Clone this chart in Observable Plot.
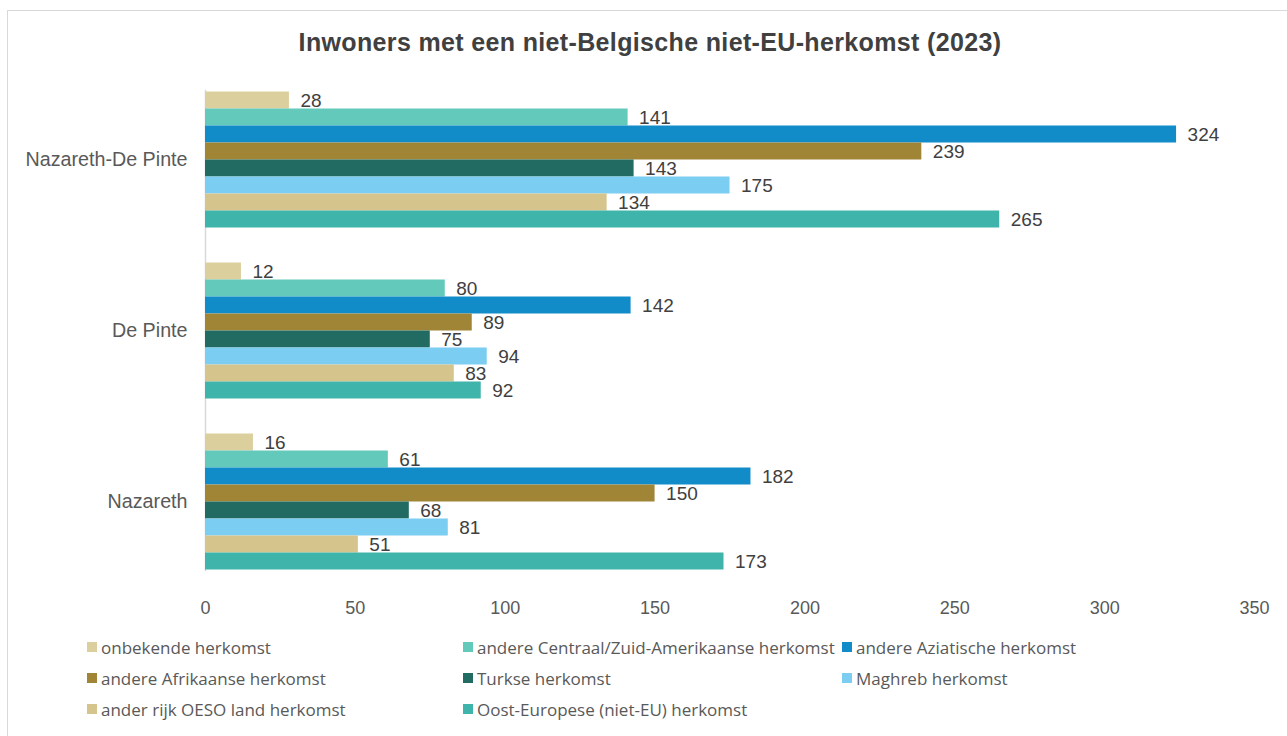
<!DOCTYPE html>
<html>
<head>
<meta charset="utf-8">
<script src="https://cdn.jsdelivr.net/npm/d3@7"></script>
<script src="https://cdn.jsdelivr.net/npm/@observablehq/plot@0.6"></script>
<style>
  html, body { margin: 0; padding: 0; background: #fff; width: 1287px; height: 736px; overflow: hidden; }
  #frame { position: absolute; left: 7px; top: 10px; width: 1400px; height: 800px; border: 1px solid #d9d9d9; box-sizing: border-box; }
  #title { position: absolute; left: 0; top: 28px; width: 1300px; text-align: center; font-family: "Liberation Sans", Arial, sans-serif; font-weight: bold; font-size: 25px; letter-spacing: 0.35px; color: #404040; line-height: 1.149; }
  #chart { position: absolute; left: 0; top: 0; }
  #legend { position: absolute; left: 0; top: 0; font-family: "Open Sans", sans-serif; font-size: 17px; color: #595959; }
  .item { position: absolute; display: flex; align-items: center; white-space: nowrap; height: 20px; }
  .sw { width: 10px; height: 10px; margin-right: 4px; }
</style>
</head>
<body>
<div id="frame"></div>
<div id="chart"></div>
<div id="title">Inwoners met een niet-Belgische niet-EU-herkomst (2023)</div>
<div id="legend"></div>
<script>
const categories = ["Nazareth-De Pinte", "De Pinte", "Nazareth"];
const series = [
  "onbekende herkomst",
  "andere Centraal/Zuid-Amerikaanse herkomst",
  "andere Aziatische herkomst",
  "andere Afrikaanse herkomst",
  "Turkse herkomst",
  "Maghreb herkomst",
  "ander rijk OESO land herkomst",
  "Oost-Europese (niet-EU) herkomst"
];
const colors = ["#DCCF9E", "#62C9BB", "#118CC8", "#A08537", "#216B62", "#7BCDF1", "#D5C48C", "#3EB4AA"];
const valuesNazarethDePinte = [28, 141, 324, 239, 143, 175, 134, 265];
const valuesDePinte = [12, 80, 142, 89, 75, 94, 83, 92];
const valuesNazareth = [16, 61, 182, 150, 68, 81, 51, 173];
const xTicks = [0, 50, 100, 150, 200, 250, 300, 350];

const valueRows = [valuesNazarethDePinte, valuesDePinte, valuesNazareth];
const data = [];
categories.forEach((c, i) => series.forEach((s, j) => data.push({cat: c, series: s, value: valueRows[i][j]})));

const H = 640;
const chart = Plot.plot({
  width: 1287,
  height: H,
  marginTop: 73.5,
  marginBottom: H - 586.5,
  marginLeft: 205,
  marginRight: 33,
  style: {fontFamily: "'Liberation Sans', Arial, sans-serif", background: "transparent"},
  x: {domain: [0, 350]},
  fy: {domain: categories, paddingInner: 0.193, paddingOuter: 0.0965},
  y: {domain: series, padding: 0, axis: null},
  color: {domain: series, range: colors},
  marks: [
    Plot.frame({facet: "super", anchor: "left", stroke: "#d9d9d9", strokeWidth: 1.5}),
    Plot.barX(data, {x: "value", y: "series", fy: "cat", fill: "series"}),
    Plot.text(data, {x: "value", y: "series", fy: "cat", text: d => String(d.value), textAnchor: "start", dx: 11, fontSize: 19, fill: "#404040"}),
    Plot.axisX({ticks: xTicks, tickSize: 0, tickPadding: 31, fontSize: 18, color: "#595959", label: null}),
    Plot.axisFy({anchor: "left", tickSize: 0, tickPadding: 18, fontSize: 19.7, color: "#595959", label: null})
  ]
});
document.getElementById("chart").appendChild(chart);

const legendCols = [87, 463, 842];
const legendRows = [647, 678, 709];
const legend = document.getElementById("legend");
series.forEach((s, i) => {
  const item = document.createElement("div");
  item.className = "item";
  item.style.left = legendCols[i % 3] + "px";
  item.style.top = (legendRows[Math.floor(i / 3)] - 10) + "px";
  const sw = document.createElement("span");
  sw.className = "sw";
  sw.style.background = colors[i];
  const tx = document.createElement("span");
  tx.textContent = s;
  item.appendChild(sw);
  item.appendChild(tx);
  legend.appendChild(item);
});
</script>
</body>
</html>
